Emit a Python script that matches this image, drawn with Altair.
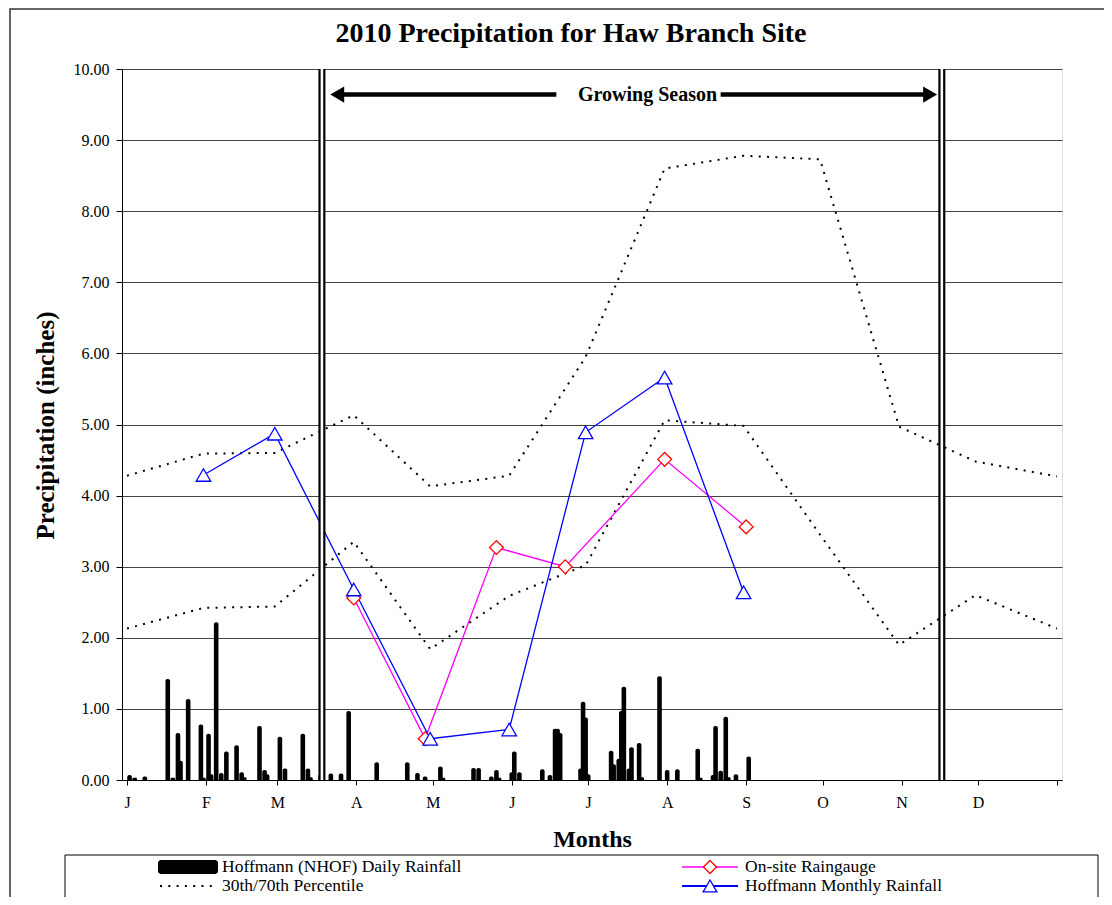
import json
import altair as alt
import pandas as pd

SERIF = "Liberation Serif"

TITLE = "2010 Precipitation for Haw Branch Site"
Y_TITLE = "Precipitation (inches)"
X_TITLE = "Months"
GS_LABEL = "Growing Season"
LEGEND_LABELS = ["Hoffmann (NHOF) Daily Rainfall", "30th/70th Percentile",
                 "On-site Raingauge", "Hoffmann Monthly Rainfall"]

MONTH_TICKS = [0, 31, 59, 90, 120, 151, 181, 212, 243, 273, 304, 334, 365]
MONTH_LABELS = ["J", "F", "M", "A", "M", "J", "J", "A", "S", "O", "N", "D", ""]
Y_TICKS = [0, 1, 2, 3, 4, 5, 6, 7, 8, 9, 10]

# Hoffmann (NHOF) daily rainfall: day of year, inches
DAILY_DAY = [1, 3, 7, 16, 18, 20, 21, 24, 29, 30,
             32, 33, 35, 37, 39, 43, 45, 46, 52, 54,
             55, 60, 62, 69, 71, 72, 76, 80, 84, 87,
             98, 110, 114, 117, 123, 124, 136, 138, 143, 145,
             146, 151, 152, 154, 163, 166, 168, 169, 170, 178,
             179, 180, 181, 190, 191, 193, 194, 195, 197, 198,
             201, 202, 209, 212, 216, 224, 225, 230, 231, 233,
             235, 236, 239, 244]
DAILY_IN = [0.07, 0.03, 0.05, 1.42, 0.03, 0.66, 0.27, 1.14, 0.78, 0.03,
            0.65, 0.08, 2.22, 0.10, 0.40, 0.49, 0.11, 0.04, 0.76, 0.14,
            0.08, 0.61, 0.16, 0.65, 0.16, 0.04, 0.08, 0.09, 0.09, 0.97,
            0.25, 0.25, 0.10, 0.05, 0.19, 0.03, 0.17, 0.17, 0.05, 0.14,
            0.03, 0.11, 0.40, 0.11, 0.15, 0.07, 0.72, 0.72, 0.66, 0.16,
            1.10, 0.88, 0.08, 0.41, 0.22, 0.30, 0.97, 1.31, 0.16, 0.46,
            0.52, 0.04, 1.46, 0.14, 0.15, 0.44, 0.03, 0.07, 0.76, 0.13,
            0.89, 0.04, 0.08, 0.33]

# 30th / 70th percentile monthly precipitation
PCT_DAY = [0, 30, 58, 89, 119, 150, 180, 211, 242, 272, 303, 333, 365]
PCT70 = [4.28, 4.59, 4.60, 5.13, 4.13, 4.28, 5.95, 8.60, 8.78, 8.73, 4.97, 4.48, 4.27]
PCT30 = [2.13, 2.42, 2.44, 3.35, 1.84, 2.59, 3.02, 5.06, 4.98, 3.45, 1.90, 2.60, 2.13]

# Hoffmann monthly rainfall
MONTHLY_DAY = [30, 58, 89, 119, 150, 180, 211, 242]
MONTHLY_IN = [4.29, 4.87, 2.68, 0.58, 0.71, 4.89, 5.66, 2.64]

# On-site raingauge
ONSITE_DAY = [89, 117, 145, 172, 211, 243]
ONSITE_IN = [2.56, 0.58, 3.27, 3.00, 4.51, 3.56]

# Growing season annotation
GS_BOUNDS = [76.5, 319.8]
GS_Y = 9.64
GS_LEFT = [79.8, 168.5]    # arrow tip, shaft end
GS_RIGHT = [233.0, 317.9]  # shaft start, arrow tip
GS_TEXT_DAY = 204.3

# ---------------------------------------------------------------
W, H = 940, 711
HEAD = 260
head_half_days = (0.866 * HEAD ** 0.5 / 2) / (W / 365)

xs = alt.Scale(domain=[0, 365], nice=False, zero=False)
ys = alt.Scale(domain=[0, 10], nice=False)

label_expr = f"{json.dumps(MONTH_LABELS)}[indexof({json.dumps(MONTH_TICKS)}, datum.value)]"

xaxis = alt.Axis(values=MONTH_TICKS, labelExpr=label_expr, grid=False,
                 tickSize=5, tickColor="black", tickWidth=1,
                 domainColor="black", domainWidth=1,
                 labelFont=SERIF, labelFontSize=16, labelColor="black",
                 labelPadding=9, labelFlush=False, labelOverlap=False,
                 title=X_TITLE, titleFont=SERIF, titleFontSize=24,
                 titleFontWeight="bold", titleColor="black",
                 titleY=66, titleBaseline="alphabetic")
yaxis = alt.Axis(values=Y_TICKS, format=".2f", grid=True, gridColor="#444",
                 gridWidth=1, tickSize=6, tickColor="black",
                 domainColor="black", domainWidth=1,
                 labelFont=SERIF, labelFontSize=16, labelColor="black",
                 labelPadding=7, labelFlush=False,
                 title=Y_TITLE, titleFont=SERIF, titleFontSize=25,
                 titleFontWeight="bold", titleColor="black",
                 titleAngle=270, titleX=-69, titleY=356,
                 titleAlign="center", titleBaseline="alphabetic")


def X(field="day"):
    return alt.X(f"{field}:Q", scale=xs, axis=xaxis)


def Y(field="val"):
    return alt.Y(f"{field}:Q", scale=ys, axis=yaxis, stack=None)


daily_df = pd.DataFrame({"day": DAILY_DAY, "val": DAILY_IN})
pct_df = pd.concat([
    pd.DataFrame({"day": PCT_DAY, "val": PCT70, "series": "70th"}),
    pd.DataFrame({"day": PCT_DAY, "val": PCT30, "series": "30th"}),
])
monthly_df = pd.DataFrame({"day": MONTHLY_DAY, "val": MONTHLY_IN})
onsite_df = pd.DataFrame({"day": ONSITE_DAY, "val": ONSITE_IN})
gs_df = pd.DataFrame({"day": GS_BOUNDS})
shaft_df = pd.DataFrame({"day": [GS_LEFT[0] + head_half_days, GS_RIGHT[0]],
                         "day2": [GS_LEFT[1], GS_RIGHT[1] - head_half_days],
                         "val": [GS_Y, GS_Y]})
lhead_df = pd.DataFrame({"day": [GS_LEFT[0] + head_half_days], "val": [GS_Y]})
rhead_df = pd.DataFrame({"day": [GS_RIGHT[1] - head_half_days], "val": [GS_Y]})
gs_text_df = pd.DataFrame({"day": [GS_TEXT_DAY], "val": [GS_Y], "label": [GS_LABEL]})
one = pd.DataFrame({"k": [0]})

frame = alt.Chart(one).mark_rect(fillOpacity=0, stroke="#333", strokeWidth=1.5).encode(
    x=alt.value(-112), x2=alt.value(1000), y=alt.value(-60), y2=alt.value(900))

title = alt.Chart(one).mark_text(font=SERIF, fontSize=28, fontWeight="bold", color="black",
                                 align="center", baseline="alphabetic").encode(
    x=alt.value(449), y=alt.value(-27), text=alt.value(TITLE))

bars = alt.Chart(daily_df).mark_bar(color="black", width=4.6,
                                    cornerRadiusTopLeft=2, cornerRadiusTopRight=2).encode(
    x=X(), y=Y())

pct = alt.Chart(pct_df).mark_line(color="black", strokeWidth=2, strokeDash=[2, 6.3]).encode(
    x=X(), y=Y(), detail="series:N")

onsite_line = alt.Chart(onsite_df).mark_line(color="#FF00FF", strokeWidth=1.3).encode(x=X(), y=Y())
onsite_pts = alt.Chart(onsite_df).mark_point(shape="diamond", filled=True, fill="white",
                                             stroke="#FF0000", strokeWidth=1.3, size=190,
                                             opacity=1).encode(x=X(), y=Y())
monthly_line = alt.Chart(monthly_df).mark_line(color="#0000FF", strokeWidth=1.3).encode(x=X(), y=Y())
monthly_pts = alt.Chart(monthly_df).mark_point(shape="triangle-up", filled=True, fill="white",
                                               stroke="#0000FF", strokeWidth=1.3, size=210,
                                               opacity=1).encode(x=X(), y=Y())

gs_black = alt.Chart(gs_df).mark_rule(color="black", strokeWidth=7).encode(x=X())
gs_white = alt.Chart(gs_df).mark_rule(color="white", strokeWidth=2.6).encode(x=X())

shafts = alt.Chart(shaft_df).mark_rule(color="black", strokeWidth=4.5).encode(
    x=X(), x2=alt.X2("day2"), y=Y())
lhead = alt.Chart(lhead_df).mark_point(shape="triangle-left", filled=True, color="black",
                                       size=HEAD, opacity=1).encode(x=X(), y=Y())
rhead = alt.Chart(rhead_df).mark_point(shape="triangle-right", filled=True, color="black",
                                       size=HEAD, opacity=1).encode(x=X(), y=Y())
gs_text = alt.Chart(gs_text_df).mark_text(font=SERIF, fontSize=20, fontWeight="bold",
                                          align="center", baseline="middle", color="black").encode(
    x=X(), y=Y(), text="label:N")

# legend (drawn manually below the plot)
R1, R2 = 798, 817
leg_box = alt.Chart(one).mark_rect(fillOpacity=0, stroke="black", strokeWidth=1).encode(
    x=alt.value(-57), x2=alt.value(976), y=alt.value(786), y2=alt.value(900))
leg_bar = alt.Chart(one).mark_rect(color="black", cornerRadius=3).encode(
    x=alt.value(36), x2=alt.value(96), y=alt.value(R1 - 7), y2=alt.value(R1 + 7))
leg_dot = alt.Chart(one).mark_rule(color="black", strokeWidth=2, strokeDash=[2, 6.3]).encode(
    x=alt.value(38), x2=alt.value(95), y=alt.value(R2))
leg_mag = alt.Chart(one).mark_rule(color="#FF00FF", strokeWidth=1.5).encode(
    x=alt.value(560), x2=alt.value(616), y=alt.value(R1))
leg_dia = alt.Chart(one).mark_point(shape="diamond", filled=True, fill="white", stroke="#FF0000",
                                    strokeWidth=1.3, size=170, opacity=1).encode(
    x=alt.value(588), y=alt.value(R1))
leg_blue = alt.Chart(one).mark_rule(color="#0000FF", strokeWidth=2).encode(
    x=alt.value(560), x2=alt.value(616), y=alt.value(R2))
leg_tri = alt.Chart(one).mark_point(shape="triangle-up", filled=True, fill="white", stroke="#0000FF",
                                    strokeWidth=1.3, size=190, opacity=1).encode(
    x=alt.value(588), y=alt.value(R2))


def leg_text(label, x, y):
    return alt.Chart(one).mark_text(font=SERIF, fontSize=17.5, align="left", baseline="middle",
                                    color="black").encode(
        x=alt.value(x), y=alt.value(y), text=alt.value(label))


legend_layers = [leg_box, leg_bar, leg_dot, leg_mag, leg_dia, leg_blue, leg_tri,
                 leg_text(LEGEND_LABELS[0], 100, R1), leg_text(LEGEND_LABELS[1], 100, R2),
                 leg_text(LEGEND_LABELS[2], 623, R1), leg_text(LEGEND_LABELS[3], 623, R2)]

chart = alt.layer(
    frame, title, bars, pct, onsite_line, monthly_line, onsite_pts, monthly_pts,
    gs_black, gs_white, shafts, lhead, rhead, gs_text, *legend_layers
).properties(
    width=W, height=H,
    autosize=alt.AutoSizeParams(type="none"),
    padding={"left": 114, "top": 61, "right": 42, "bottom": 117},
).configure_view(stroke="#777", strokeWidth=1).configure(background="white")

chart.save("out.html", embed_options={"renderer": "svg", "actions": False})
